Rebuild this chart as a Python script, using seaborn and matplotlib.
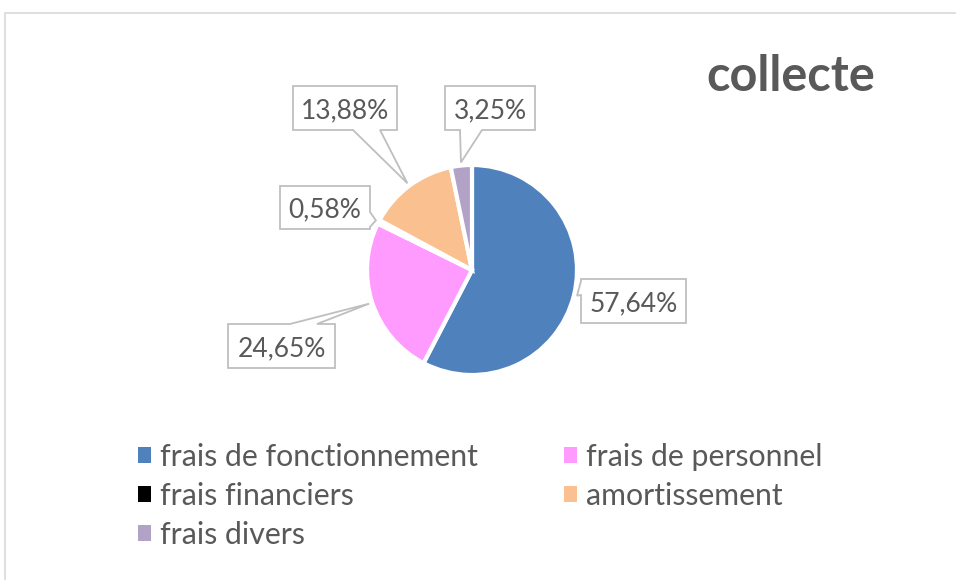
import numpy as np
import matplotlib
matplotlib.use("Agg")
import matplotlib.pyplot as plt
from matplotlib.patches import Patch, Polygon, Rectangle
import seaborn as sns

# ---- data ----
categories = ["frais de fonctionnement", "frais de personnel", "frais financiers",
              "amortissement", "frais divers"]
values = [57.64, 24.65, 0.58, 13.88, 3.25]
labels = ["57,64%", "24,65%", "0,58%", "13,88%", "3,25%"]
colors = ["#4F81BD", "#FF9BFF", "#000000", "#FAC090", "#B3A2C7"]
title = "collecte"

sns.set_theme(style="white")
plt.rcParams["font.family"] = ["Lato", "DejaVu Sans"]

W, H = 956, 580
fig = plt.figure(figsize=(W / 100, H / 100), dpi=100)
ax = fig.add_axes([0, 0, 1, 1])

def Y(y):  # top-down pixel -> y-up
    return H - y

cx, cy, R = 472, 270, 105
wedges, _ = ax.pie(values, colors=colors, startangle=90, counterclock=False,
                   center=(cx, Y(cy)), radius=R,
                   wedgeprops=dict(edgecolor="white", linewidth=3))
ax.set_xlim(0, W)
ax.set_ylim(0, H)
ax.set_aspect("equal")
ax.axis("off")

# outer chart border
fig.patches.append(Rectangle((4.5 / W, 0 - 0.1), 1.2, (H - 12.5) / H + 0.1,
                             transform=fig.transFigure, fill=False,
                             edgecolor="#D9D9D9", linewidth=1.2))

# callout boxes (layout)
boxes = {
    "57,64%": ((581, 279, 686, 323), "left", 281, 295),
    "24,65%": ((228, 324, 335, 368), "top", 290, 317),
    "0,58%": ((280, 186, 370, 229), "right", 212, 227),
    "13,88%": ((293, 86, 397, 130), "bottom", 353, 380),
    "3,25%": ((445, 86, 535, 130), "bottom", 460, 482),
}

def callout(box, side, a, b, tip):
    x0, y0, x1, y1 = box
    pts = [(x0, y0)]
    if side == "top":
        pts += [(a, y0), tip, (b, y0)]
    pts.append((x1, y0))
    if side == "right":
        pts += [(x1, a), tip, (x1, b)]
    pts.append((x1, y1))
    if side == "bottom":
        pts += [(b, y1), tip, (a, y1)]
    pts.append((x0, y1))
    if side == "left":
        pts += [(x0, b), tip, (x0, a)]
    return [(px, Y(py)) for px, py in pts]

for w, lab in zip(wedges, labels):
    mid = np.deg2rad((w.theta1 + w.theta2) / 2)
    tip = (cx + 1.03 * R * np.cos(mid), cy - 1.03 * R * np.sin(mid))
    box, side, a, b = boxes[lab]
    poly = Polygon(callout(box, side, a, b, tip), closed=True, facecolor="white",
                   edgecolor="#BFBFBF", linewidth=1.3, zorder=3)
    ax.add_patch(poly)
    ax.text((box[0] + box[2]) / 2, Y((box[1] + box[3]) / 2), lab, ha="center",
            va="center_baseline", fontsize=19, color="#595959", zorder=4)

fig.text(706 / W, Y(91) / H, title, ha="left", va="baseline", fontsize=35,
         fontweight="bold", color="#595959")

order = [0, 2, 4, 1, 3]
handles = [Patch(facecolor=colors[i], edgecolor="none") for i in order]
leg = fig.legend(handles, [categories[i] for i in order], ncol=2,
                 loc="upper left", bbox_to_anchor=(138 / W, Y(443) / H),
                 frameon=False, fontsize=21.8, handlelength=0.42, handleheight=0.42,
                 handletextpad=0.3, columnspacing=2.85, labelspacing=0.36,
                 borderpad=0, borderaxespad=0)
for t in leg.get_texts():
    t.set_color("#595959")

fig.savefig("out.png", dpi=100)
